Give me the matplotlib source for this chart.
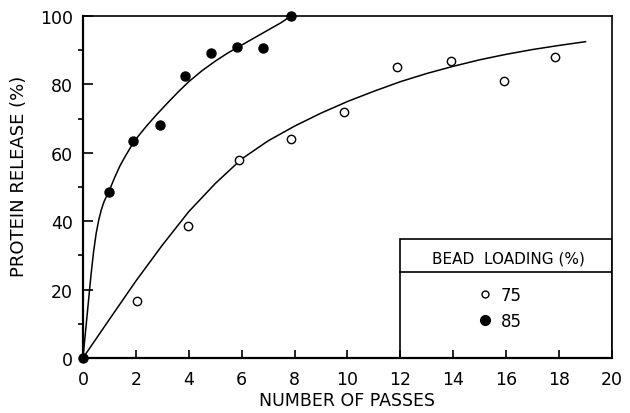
import numpy as np
import matplotlib
matplotlib.use("Agg")
import matplotlib.pyplot as plt
from matplotlib.lines import Line2D
from matplotlib.patches import Rectangle

# measured release, 85 % bead loading (filled)
passes_85 = [0, 0.97, 1.9, 2.9, 3.87, 4.85, 5.83, 6.82, 7.86]
release_85 = [0, 48.5, 63.5, 68.0, 82.6, 89.2, 90.8, 90.6, 100]

# measured release, 75 % bead loading (open)
passes_75 = [0, 2.03, 3.96, 5.9, 7.86, 9.87, 11.88, 13.91, 15.9, 17.86]
release_75 = [0, 16.8, 38.7, 57.9, 63.9, 72.0, 85.0, 86.8, 81.0, 88.1]

# hand-drawn fitted curves
fit_x_85 = [0, 0.1, 0.2, 0.3, 0.4, 0.5, 0.6, 0.7, 0.8, 0.9, 0.97, 1.2, 1.4,
            1.6, 1.8, 2.0, 2.4, 2.8, 3.2, 3.6, 4.0, 4.5, 5.0, 5.5, 6.0,
            6.5, 7.0, 7.5, 7.86]
fit_y_85 = [0, 8, 16, 24, 31, 36.5, 40.5, 43.5, 45.8, 47.4, 48.5, 52.8, 56.2,
            59.0, 61.6, 64.0, 67.8, 71.3, 74.6, 77.8, 80.8, 84.0, 86.8, 89.3, 91.5,
            93.7, 95.9, 98.1, 100]
fit_x_75 = [0, 1, 2, 3, 4, 5, 6, 7, 8, 9, 10, 11, 12, 13, 14, 15, 16, 17,
            18, 19]
fit_y_75 = [0, 11.3, 22.5, 33, 42.8, 51, 58.2, 63.5, 67.8, 71.6, 75, 78,
            80.8, 83.2, 85.3, 87.2, 88.8, 90.2, 91.4, 92.5]

plt.rcParams['font.family'] = ['DejaVu Sans']
fs_tick = 12.5
fs_label = 12.5

fig = plt.figure(figsize=(6.3, 4.14), dpi=100)
ax = fig.add_axes([0.1317, 0.1329, 0.8397, 0.826])

ax.plot(fit_x_75, fit_y_75, color='black', lw=1.1, zorder=2)
ax.plot(fit_x_85, fit_y_85, color='black', lw=1.1, zorder=2)
ax.plot(passes_75, release_75, 'o', ms=6, mfc='white', mec='black', mew=1.0,
        ls='none', zorder=3)
ax.plot(passes_85, release_85, 'o', ms=6.5, color='black', ls='none',
        zorder=4, clip_on=False)

ax.set_xlim(0, 20)
ax.set_ylim(0, 100)
ax.set_xticks(np.arange(0, 21, 2))
ax.set_yticks(np.arange(0, 101, 20))
ax.set_yticks(np.arange(10, 100, 20), minor=True)
ax.tick_params(axis='both', direction='in', labelsize=fs_tick, width=1.2,
               colors='black')
ax.tick_params(axis='x', length=6, pad=9)
ax.tick_params(axis='y', length=7, pad=7)
ax.tick_params(axis='y', which='minor', length=3.6, width=1.2)
ax.tick_params(axis='x', which='minor', length=0)

for side in ['left', 'bottom']:
    ax.spines[side].set_linewidth(1.6)
for side in ['top', 'right']:
    ax.spines[side].set_linewidth(1.2)

ax.set_xlabel('NUMBER OF PASSES', fontsize=fs_label, labelpad=2)
ax.set_ylabel('PROTEIN RELEASE (%)', fontsize=13)
ax.yaxis.set_label_coords(-0.103, 0.535)

# legend box with header row
ax.add_patch(Rectangle((0.6, 0), 0.4, 0.348, transform=ax.transAxes,
                       fill=False, lw=1.2, ec='black', zorder=5))
ax.plot([0.6, 1.0], [0.252, 0.252], transform=ax.transAxes, color='black',
        lw=1.2, zorder=5)
ax.text(0.805, 0.293, 'BEAD  LOADING (%)', transform=ax.transAxes,
        ha='center', va='center', fontsize=11)

handles = [
    Line2D([], [], marker='o', ls='none', ms=5, mfc='white', mec='black',
           mew=1.0),
    Line2D([], [], marker='o', ls='none', ms=7, color='black'),
]
ax.legend(handles, ['75', '85'], loc='upper left',
          bbox_to_anchor=(0.744, 0.211), frameon=False, fontsize=12,
          handlelength=1.0, handletextpad=0.45, labelspacing=0.5,
          borderpad=0, borderaxespad=0)

fig.savefig('out.png', dpi=100)
